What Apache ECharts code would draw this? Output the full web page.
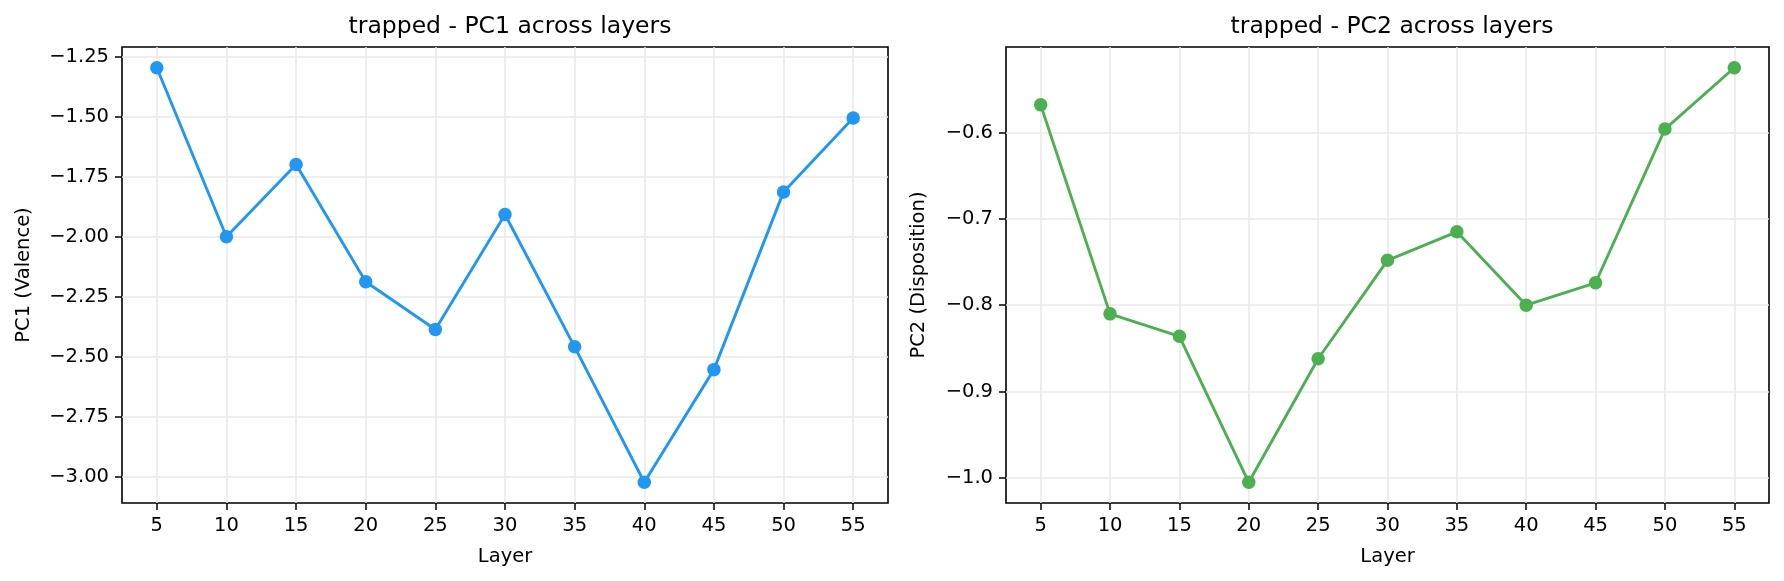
<!DOCTYPE html>
<html>
<head>
<meta charset="utf-8">
<script src="https://cdn.jsdelivr.net/npm/echarts@6/dist/echarts.min.js"></script>
<style>
  html, body { margin: 0; padding: 0; background: #fff; }
  #chart { width: 1784px; height: 581px; }
</style>
</head>
<body>
<div id="chart"></div>
<script>
var layers = [5, 10, 15, 20, 25, 30, 35, 40, 45, 50, 55];
var pc1 = [-1.296, -2.000, -1.699, -2.187, -2.386, -1.907, -2.458, -3.022, -2.553, -1.813, -1.505];
var pc2 = [-0.568, -0.810, -0.836, -1.005, -0.862, -0.748, -0.715, -0.800, -0.774, -0.596, -0.525];
var pc1Ticks = [-3.00, -2.75, -2.50, -2.25, -2.00, -1.75, -1.50, -1.25];
var pc2Ticks = [-1.0, -0.9, -0.8, -0.7, -0.6];

var font = 'DejaVu Sans';

function pairs(ys) {
  return layers.map(function (l, i) { return [l, ys[i]]; });
}
function minus(s) { return s.replace('-', '\u2212'); }

// matplotlib style 5% margins
function pad(vals) {
  var lo = Math.min.apply(null, vals), hi = Math.max.apply(null, vals);
  var m = (hi - lo) * 0.05;
  return [lo - m, hi + m];
}

function xAxisFor(idx) {
  return {
    type: 'value', gridIndex: idx, min: 2.5, max: 57.5,
    name: 'Layer', nameLocation: 'middle', nameGap: 44,
    nameTextStyle: { fontFamily: font, fontSize: 19.5, color: '#000' },
    axisLine: { show: false },
    axisTick: { show: true, customValues: layers, length: 7, lineStyle: { color: '#000', width: 1.5 } },
    axisLabel: { customValues: layers, margin: 13, fontFamily: font, fontSize: 19.5, color: '#000' },
    splitLine: { show: true, lineStyle: { color: '#e8e8e8', width: 1.5 } }
  };
}

function yAxisFor(idx, vals, ticks, dec, name) {
  var r = pad(vals);
  return {
    type: 'value', gridIndex: idx, min: r[0], max: r[1],
    name: name, nameLocation: 'middle', nameGap: dec === 2 ? 88 : 77,
    nameTextStyle: { fontFamily: font, fontSize: 19.5, color: '#000' },
    axisLine: { show: false },
    axisTick: { show: true, customValues: ticks, length: 7, lineStyle: { color: '#000', width: 1.5 } },
    axisLabel: {
      customValues: ticks, margin: 13, fontFamily: font, fontSize: 19.5, color: '#000',
      formatter: function (v) { return minus(v.toFixed(dec)); }
    },
    splitLine: { show: true, lineStyle: { color: '#e8e8e8', width: 1.5 } }
  };
}

function lineSeries(idx, ys, color) {
  return {
    type: 'line', xAxisIndex: idx, yAxisIndex: idx,
    data: pairs(ys),
    symbol: 'circle', symbolSize: 13.5,
    lineStyle: { color: color, width: 2.9 },
    itemStyle: { color: color },
    animation: false
  };
}

var chart = echarts.init(document.getElementById('chart'));
var option = {
  backgroundColor: '#fff',
  title: [
    { text: 'trapped - PC1 across layers', left: 505, top: 10, textAlign: 'center',
      textStyle: { fontFamily: font, fontSize: 23.5, fontWeight: 'normal', color: '#000' } },
    { text: 'trapped - PC2 across layers', left: 1387, top: 10, textAlign: 'center',
      textStyle: { fontFamily: font, fontSize: 23.5, fontWeight: 'normal', color: '#000' } }
  ],
  grid: [
    { left: 122, top: 47, width: 766, height: 456, show: true, borderColor: '#000', borderWidth: 1.6, backgroundColor: 'transparent' },
    { left: 1006, top: 47, width: 763, height: 456, show: true, borderColor: '#000', borderWidth: 1.6, backgroundColor: 'transparent' }
  ],
  xAxis: [xAxisFor(0), xAxisFor(1)],
  yAxis: [
    yAxisFor(0, pc1, pc1Ticks, 2, 'PC1 (Valence)'),
    yAxisFor(1, pc2, pc2Ticks, 1, 'PC2 (Disposition)')
  ],
  series: [
    lineSeries(0, pc1, '#2196F3'),
    lineSeries(1, pc2, '#4CAF50')
  ]
};
chart.setOption(option);
</script>
</body>
</html>
